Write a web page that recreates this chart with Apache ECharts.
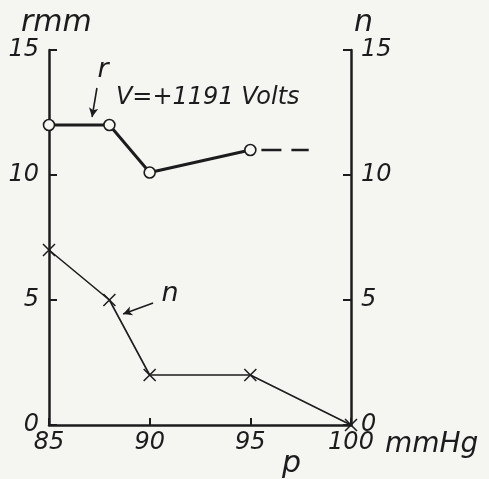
<!DOCTYPE html>
<html>
<head>
<meta charset="utf-8">
<script src="https://cdn.jsdelivr.net/npm/echarts@6/dist/echarts.min.js"></script>
<style>
html,body{margin:0;padding:0;background:#f5f5f2;}
#c{width:489px;height:479px;}
</style>
</head>
<body>
<div id="c"></div>
<script>
// Data
const pressure = [85, 88, 90, 95, 100];
const rValues = [12, 12, 10.1, 11];          // r (mm) at 85, 88, 90, 95
const rDashedX = [95.55, 97.9];               // dashed extension of r
const rDashedY = [11, 11];
const nValues = [7, 5, 2, 2, 0];              // n at 85, 88, 90, 95, 100
const yTicks = [0, 5, 10, 15];
const xTicks = [85, 90, 95, 100];

const ink = '#1c1c1c';
const font = '"DejaVu Sans", "Liberation Sans", sans-serif';

const rData = rValues.map((v, i) => [pressure[i], v]);
const nData = nValues.map((v, i) => [pressure[i], v]);
const rDash = rDashedX.map((x, i) => [x, rDashedY[i]]);

const chart = echarts.init(document.getElementById('c'));

const axisLabelStyle = {color: ink, fontFamily: font, fontStyle: 'italic', fontSize: 24};

chart.setOption({
  backgroundColor: '#f5f5f2',
  animation: false,
  grid: {left: 49, right: 138, top: 50, bottom: 54},
  xAxis: {
    type: 'value', min: 85, max: 100, interval: 5,
    axisLine: {show: true, lineStyle: {color: ink, width: 2.5}},
    axisTick: {show: true, inside: true, length: 7, lineStyle: {color: ink, width: 2}},
    splitLine: {show: false},
    axisLabel: Object.assign({margin: 6}, axisLabelStyle),
    name: 'mmHg', nameLocation: 'end', nameGap: 34,
    nameTextStyle: {color: ink, fontFamily: font, fontStyle: 'italic', fontSize: 28,
      align: 'left', verticalAlign: 'top', padding: [6, 0, 0, 0]}
  },
  yAxis: [{
    type: 'value', min: 0, max: 15, interval: 5, position: 'left',
    axisLine: {show: true, lineStyle: {color: ink, width: 2.5}},
    axisTick: {show: true, inside: true, length: 8, lineStyle: {color: ink, width: 2}},
    splitLine: {show: false},
    axisLabel: Object.assign({margin: 10}, axisLabelStyle),
    name: 'rmm', nameLocation: 'end', nameGap: 4,
    nameTextStyle: {color: ink, fontFamily: font, fontStyle: 'italic', fontSize: 30, align: 'left', padding: [0, 0, 0, -28]}
  }, {
    type: 'value', min: 0, max: 15, interval: 5, position: 'right',
    axisLine: {show: true, lineStyle: {color: ink, width: 2.5}},
    axisTick: {show: true, inside: true, length: 8, lineStyle: {color: ink, width: 2}},
    splitLine: {show: false},
    axisLabel: Object.assign({margin: 10}, axisLabelStyle),
    name: 'n', nameLocation: 'end', nameGap: 4,
    nameTextStyle: {color: ink, fontFamily: font, fontStyle: 'italic', fontSize: 30, align: 'left', padding: [0, 0, 0, 3]}
  }],
  graphic: [{
    type: 'text', left: 282, top: 449,
    style: {text: 'p', fill: ink, font: 'italic 30px ' + font}
  }],
  series: [{
    name: 'r', type: 'line', yAxisIndex: 0, data: rData,
    symbol: 'circle', symbolSize: 11, showAllSymbol: true,
    lineStyle: {color: ink, width: 3},
    itemStyle: {color: '#f7f7f4', borderColor: ink, borderWidth: 1.6},
    z: 3,
    markLine: {
      silent: true, symbol: ['none', 'arrow'], symbolSize: [7, 9],
      lineStyle: {color: ink, width: 1.6, type: 'solid'}, label: {show: false},
      data: [[{coord: [87.38, 13.48]}, {coord: [87.14, 12.32]}]]
    },
    markPoint: {
      silent: true, symbol: 'circle', symbolSize: 1, itemStyle: {color: 'rgba(0,0,0,0)'},
      data: [
        {coord: [87.68, 14.2], label: {show: true, position: 'inside', formatter: 'r', color: ink, fontFamily: font, fontStyle: 'italic', fontSize: 27}},
        {coord: [88.3, 13.1], label: {show: true, position: 'right', distance: 0, formatter: 'V=+1191 Volts', color: ink, fontFamily: font, fontStyle: 'italic', fontSize: 24}}
      ]
    }
  }, {
    name: 'r dashed', type: 'line', yAxisIndex: 0, data: rDash,
    symbol: 'none', lineStyle: {color: ink, width: 2.5, type: [20, 10]}
  }, {
    name: 'n', type: 'line', yAxisIndex: 1, data: nData,
    symbol: 'path://M0,0L10,10M10,0L0,10', symbolSize: 12, showAllSymbol: true,
    lineStyle: {color: ink, width: 1.6},
    itemStyle: {color: ink, borderColor: ink, borderWidth: 1.5},
    markLine: {
      silent: true, symbol: ['none', 'arrow'], symbolSize: [7, 9],
      lineStyle: {color: ink, width: 1.6, type: 'solid'}, label: {show: false},
      data: [[{coord: [90.17, 4.88]}, {coord: [88.68, 4.44]}]]
    },
    markPoint: {
      silent: true, symbol: 'circle', symbolSize: 1, itemStyle: {color: 'rgba(0,0,0,0)'},
      data: [
        {coord: [91.01, 5.25], label: {show: true, position: 'inside', formatter: 'n', color: ink, fontFamily: font, fontStyle: 'italic', fontSize: 27}}
      ]
    }
  }]
});
</script>
</body>
</html>
